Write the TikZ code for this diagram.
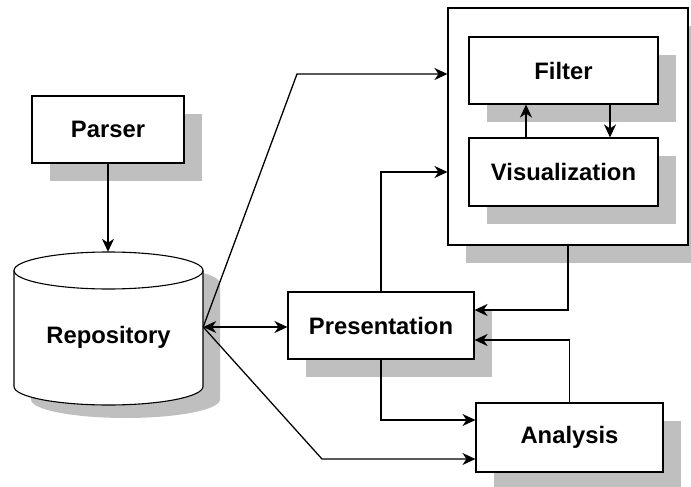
\documentclass[tikz,border=0pt]{standalone}
\usepackage{fontspec}
\setmainfont{Liberation Sans}
\usetikzlibrary{arrows.meta,shadows}
\tikzstyle{block} = [draw, rectangle, fill=white, line width=1.1pt,
    font=\bfseries\fontsize{23.8pt}{28pt}\selectfont,
    drop shadow={shadow xshift=18pt, shadow yshift=-18pt,
        fill=black!25, opacity=1}]
\tikzstyle{line} = [line width=1.3pt]
\tikzstyle{store} = [rectangle, minimum width=189pt, minimum height=150pt]

\begin{document}
\begin{tikzpicture}[x=1pt, y=-1pt,
    >={Stealth[length=13pt,width=12pt,inset=4pt]}]
    \useasboundingbox (0,0) rectangle (691,487);
    % We start by placing the blocks
    \node [block, minimum width=152pt, minimum height=67pt] (parser) at (108,129.5) {Parser};
    \node [block, minimum width=240pt, minimum height=237pt] (outer) at (568,126.5) {};
    \node [block, minimum width=189pt, minimum height=67pt] (filter) at (563.5,70.5) {Filter};
    \node [block, minimum width=189pt, minimum height=68pt] (viz) at (563.5,172) {Visualization};
    \node [block, minimum width=186pt, minimum height=67pt] (pres) at (381,325.5) {Presentation};
    \node [block, minimum width=187pt, minimum height=69pt] (analysis) at (569.5,437.5) {Analysis};

    % The repository is a cylinder, drawn by hand round its node
    \fill [black!25, shift={(17,13)}] (14,270.5) -- (14,386.5)
        arc [start angle=180, end angle=0, x radius=94.5, y radius=18.5]
        -- (203,270.5)
        arc [start angle=0, end angle=-180, x radius=94.5, y radius=18.5] -- cycle;
    \draw [fill=white, line width=1.1pt] (14,270.5) -- (14,386.5)
        arc [start angle=180, end angle=0, x radius=94.5, y radius=18.5]
        -- (203,270.5)
        arc [start angle=0, end angle=-180, x radius=94.5, y radius=18.5] -- cycle;
    \draw [line width=1.1pt] (14,270.5)
        arc [start angle=180, end angle=0, x radius=94.5, y radius=18.5];
    \node [store, label={[font=\bfseries\fontsize{23.8pt}{28pt}\selectfont,
        yshift=-10pt]center:Repository}] (repo) at (108.5,327) {};

    % Bends of the two slanted lines
    \coordinate (upbend) at (297,74);
    \coordinate (lowbend) at (322,459);

    % Once the nodes are placed, connecting them is easy.
    \draw [line,->] (parser.south) -- (parser.south |- repo.north);
    \draw [line,<->] (repo.east) -- (repo.east -| pres.west);
    \draw [line,->] (repo.east) -- (upbend) -- (upbend -| outer.west);
    \draw [line,->] (repo.east) -- (lowbend) -- (lowbend -| analysis.west);
    \draw [line,->] (pres.north) |- (viz.west -| outer.west);
    \draw [line,->] (pres.south) |- ([yshift=17.5pt]analysis.west);
    \draw [line,->] (outer.south) |- ([yshift=15.5pt]pres.east);
    \draw [line,->] (analysis.north) |- ([yshift=-14.5pt]pres.east);
    \draw [line,->] ([xshift=-37.5pt]viz.north) -- ([xshift=-37.5pt]filter.south);
    \draw [line,->] ([xshift=46.5pt]filter.south) -- ([xshift=46.5pt]viz.north);
\end{tikzpicture}
\end{document}
